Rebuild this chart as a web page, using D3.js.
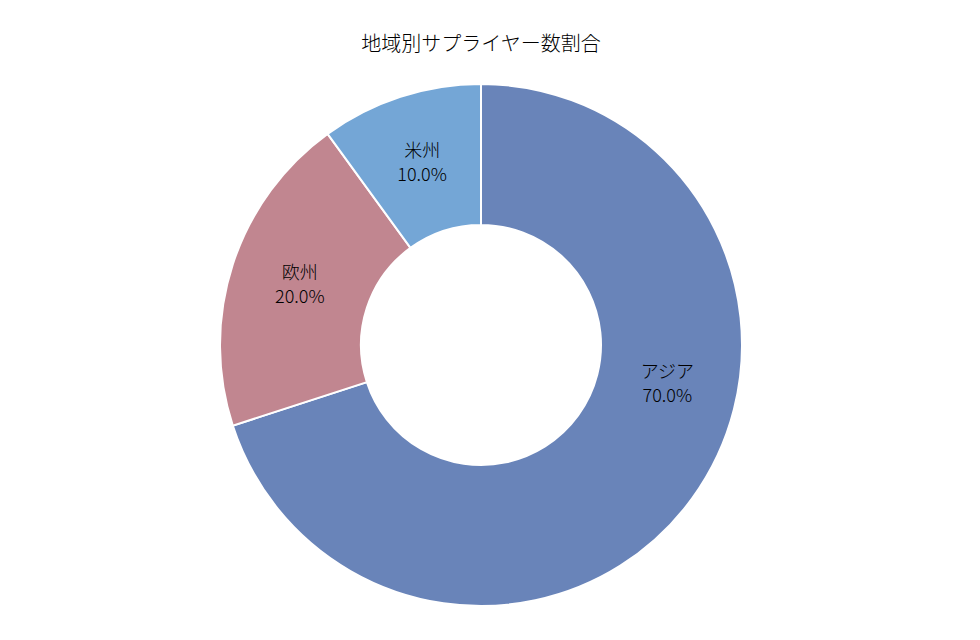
<!DOCTYPE html>
<html><head><meta charset="utf-8">
<script src="https://cdn.jsdelivr.net/npm/d3@7"></script>
<style>body{margin:0;background:#fff;} text{font-family:"Noto Sans CJK JP","Noto Sans",sans-serif;font-weight:300;}</style>
</head><body><svg id="c" width="980" height="640"></svg>
<script>
const title = "地域別サプライヤー数割合";
const categories = ["アジア", "欧州", "米州"];
const values = [70, 20, 10];
const colors = ["#6984b9", "#c18690", "#74a6d6"];

const svg = d3.select("#c");
const cx = 481, cy = 345, R = 261, r0 = 120;

svg.append("text").attr("x", cx).attr("y", 51).attr("text-anchor", "middle")
  .attr("font-size", 20).attr("fill", "#000").text(title);

const data = categories.map((c, i) => ({name: c, value: values[i], color: colors[i]}));
const total = d3.sum(values);
const pie = d3.pie().value(d => d.value).sort(null);
const arcs = pie(data);
const arc = d3.arc().innerRadius(r0).outerRadius(R);

const g = svg.append("g").attr("transform", `translate(${cx},${cy})`);
g.selectAll("path").data(arcs).join("path")
  .attr("d", arc).attr("fill", d => d.data.color)
  .attr("stroke", "#fff").attr("stroke-width", 2);

const labR = (R + r0) / 2;
arcs.forEach(a => {
  const span = a.endAngle - a.startAngle;
  const ang = span > Math.PI ? a.startAngle + span * 0.405 : (a.startAngle + a.endAngle) / 2;
  const x = labR * Math.sin(ang), y = -labR * Math.cos(ang);
  const t = g.append("text").attr("text-anchor", "middle").attr("font-size", 18).attr("fill", "#000");
  t.append("tspan").attr("x", x).attr("y", y - 7).text(a.data.name);
  t.append("tspan").attr("x", x).attr("y", y + 17).text((a.data.value / total * 100).toFixed(1) + "%");
});
</script></body></html>
